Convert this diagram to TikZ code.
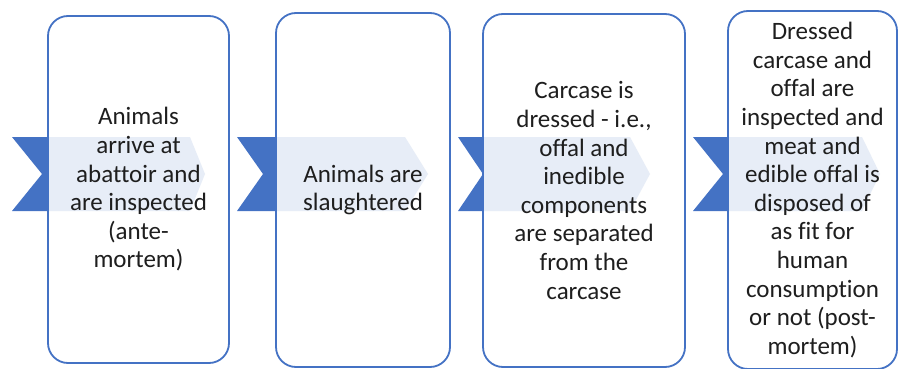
\documentclass[tikz,border=0pt]{standalone}
\usepackage{fontspec}
\setmainfont{Carlito}[Ligatures={NoCommon,NoRare}]
\definecolor{bblue}{HTML}{4472C4}
\definecolor{lblue}{HTML}{E7EDF7}
\definecolor{txt}{HTML}{1E1E1E}
\begin{document}
\begin{tikzpicture}[x=1pt,y=-1pt,
  boxline/.style={draw=bblue, line width=1.8pt, rounded corners=20pt},
  boxtext/.style={boxline, align=center, text=txt, inner sep=0pt,
    font=\fontsize{25}{28.6}\selectfont},
]
\useasboundingbox (0,0) rectangle (899,369);
% chevrons: outer/notch/box-left/flat-end/tip/box-top/box-bottom/box-right
\foreach \o/\n/\bl/\f/\t/\bt/\bb/\br in {12/42/48/190/205/16/363/229, 237/263/276/405/428/13/367/450, 458/483/483/630/650/14/367/685, 693/723/728/862/880/10/368/897}{
  \fill[bblue] (\o,137) -- (\f,137) -- (\t,174) -- (\f,211) -- (\o,211) -- (\n,174) -- cycle;
  \fill[white, rounded corners=20pt] (\bl,\bt) rectangle (\br,\bb);
  \fill[lblue] (\bl,137) -- (\f,137) -- (\t,174) -- (\f,211) -- (\bl,211) -- cycle;
}
\node[boxtext, minimum width=181pt, minimum height=347pt] (b1) at (138.5,189.5)
  {Animals\\arrive at\\abattoir and\\are inspected\\(ante-\\mortem)};
\node[boxtext, minimum width=174pt, minimum height=354pt] (b2) at (363,190)
  {Animals are\\slaughtered};
\node[boxtext, minimum width=202pt, minimum height=353pt] (b3) at (584,190.5)
  {Carcase is\\dressed - i.e.,\\offal and\\inedible\\components\\are separated\\from the\\carcase};
\node[boxtext, minimum width=169pt, minimum height=358pt] (b4) at (812.5,190)
  {Dressed\\carcase and\\offal are\\inspected and\\meat and\\edible offal is\\disposed of\\as fit for\\human\\consumption\\or not (post-\\mortem)};
\end{tikzpicture}
\end{document}
